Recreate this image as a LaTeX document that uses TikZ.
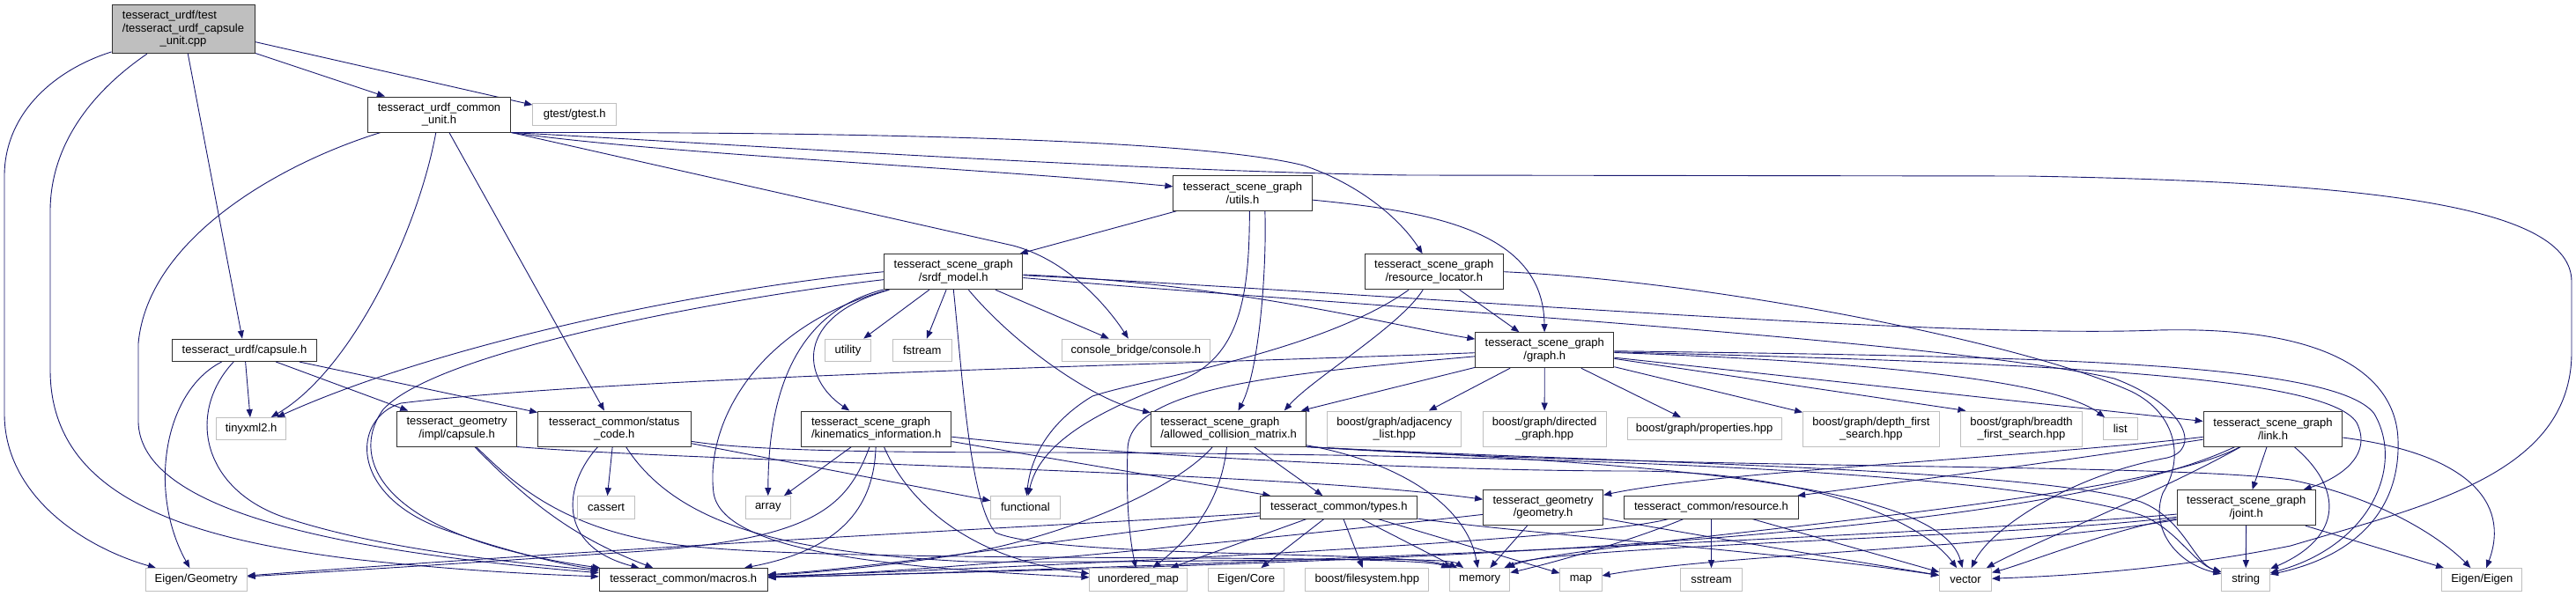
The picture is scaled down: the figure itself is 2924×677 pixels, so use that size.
\documentclass[tikz,border=0pt]{standalone}
\usepackage{fontspec}
\setmainfont{Liberation Sans}
\usetikzlibrary{arrows.meta,backgrounds}
\definecolor{edgec}{HTML}{191970}
\definecolor{sysc}{HTML}{BFBFBF}
\definecolor{rootc}{HTML}{BFBFBF}
\definecolor{hdrc}{HTML}{303030}
\tikzset{
  box/.style={rectangle, inner sep=0pt, font=\fontsize{13}{14.7}\selectfont, align=center},
  hdr/.style={box, draw=hdrc, line width=1pt, fill=white},
  sys/.style={box, draw=sysc, line width=1pt, fill=white},
  root/.style={box, draw=hdrc, line width=1pt, fill=rootc},
  two/.style={minimum height=40pt},
  one/.style={minimum height=25.4pt},
  e/.style={draw=edgec, line width=0.9pt, -{Triangle[length=9pt,width=7pt]}},
}
\begin{document}
\begin{tikzpicture}[x=1pt,y=-1pt]
\begin{scope}[on background layer]
\fill[white] (0,0) rectangle (2924,677);
\end{scope}
\path[use as bounding box] (0,0) rectangle (2924,677);

% ---------- nodes ----------
\node[root, minimum width=162pt, minimum height=55pt] (main) at (208,33.2) {\begin{tabular}{@{}l@{}}tesseract\_urdf/test\\/tesseract\_urdf\_capsule\\\multicolumn{1}{@{}c@{}}{\_unit.cpp}\end{tabular}};
\node[hdr, two, minimum width=162.7pt] (cu) at (498.5,130) {tesseract\_urdf\_common\\\_unit.h};
\node[sys, one, minimum width=95pt] (gtest) at (652.3,130) {gtest/gtest.h};
\node[hdr, two, minimum width=157.3pt] (utils) at (1410.5,219.3) {tesseract\_scene\_graph\\/utils.h};
\node[hdr, two, minimum width=157.3pt] (srdf) at (1082.3,308.7) {tesseract\_scene\_graph\\/srdf\_model.h};
\node[hdr, two, minimum width=157.3pt] (rl) at (1627.8,308.7) {tesseract\_scene\_graph\\/resource\_locator.h};
\node[hdr, one, minimum width=164.5pt] (cap) at (277.5,397.8) {tesseract\_urdf/capsule.h};
\node[sys, one, minimum width=52.4pt] (utility) at (962.5,397.8) {utility};
\node[sys, one, minimum width=67pt] (fstream) at (1046.7,397.8) {fstream};
\node[sys, one, minimum width=167.7pt] (console) at (1289.4,397.8) {console\_bridge/console.h};
\node[hdr, two, minimum width=157pt] (graph) at (1753.3,397.7) {tesseract\_scene\_graph\\/graph.h};
\node[sys, one, minimum width=78.8pt] (tinyxml) at (285.1,487.2) {tinyxml2.h};
\node[hdr, two, minimum width=135.5pt] (gcap) at (518.6,487) {tesseract\_geometry\\/impl/capsule.h};
\node[hdr, two, minimum width=173.4pt] (status) at (697.3,487) {tesseract\_common/status\\\_code.h};
\node[hdr, two, minimum width=170.3pt, align=left] (kin) at (994.7,487) {tesseract\_scene\_graph\\/kinematics\_information.h};
\node[hdr, two, minimum width=176pt, align=left] (acm) at (1394.6,487) {tesseract\_scene\_graph\\/allowed\_collision\_matrix.h};
\node[sys, two, minimum width=152pt] (adj) at (1582.7,487) {boost/graph/adjacency\\\_list.hpp};
\node[sys, two, minimum width=139.8pt] (dir) at (1753.1,487) {boost/graph/directed\\\_graph.hpp};
\node[sys, one, minimum width=174.8pt] (prop) at (1934.6,487.2) {boost/graph/properties.hpp};
\node[sys, two, minimum width=154.7pt] (dfs) at (2123.9,487) {boost/graph/depth\_first\\\_search.hpp};
\node[sys, two, minimum width=137.8pt] (bfs) at (2294.5,487) {boost/graph/breadth\\\_first\_search.hpp};
\node[sys, one, minimum width=39.1pt] (list) at (2406.7,487.2) {list};
\node[hdr, two, minimum width=157.7pt] (link) at (2580,487) {tesseract\_scene\_graph\\/link.h};
\node[sys, one, minimum width=65.4pt] (cassert) at (688.1,576.3) {cassert};
\node[sys, one, minimum width=50.9pt] (array) at (871.8,576.3) {array};
\node[sys, one, minimum width=78.6pt] (functional) at (1163.9,576.3) {functional};
\node[hdr, one, minimum width=178.3pt] (types) at (1519.8,576.3) {tesseract\_common/types.h};
\node[hdr, two, minimum width=136pt] (geom) at (1751.6,576.7) {tesseract\_geometry\\/geometry.h};
\node[hdr, one, minimum width=197.5pt] (resource) at (1942.5,576.3) {tesseract\_common/resource.h};
\node[hdr, two, minimum width=157.3pt] (joint) at (2549.7,576.7) {tesseract\_scene\_graph\\/joint.h};
\node[sys, one, minimum width=114.8pt] (eigeo) at (222.7,658.3) {Eigen/Geometry};
\node[hdr, one, minimum width=190.9pt] (macros) at (775.7,658.3) {tesseract\_common/macros.h};
\node[sys, one, minimum width=110.2pt] (umap) at (1292,658.3) {unordered\_map};
\node[sys, one, minimum width=85.8pt] (ecore) at (1414.5,658.3) {Eigen/Core};
\node[sys, one, minimum width=140pt] (fs) at (1551.9,658.3) {boost/filesystem.hpp};
\node[sys, one, minimum width=68.2pt] (memory) at (1679.7,658.3) {memory};
\node[sys, one, minimum width=47.1pt] (map) at (1794.5,658.3) {map};
\node[sys, one, minimum width=69.7pt] (sstream) at (1942.5,658.3) {sstream};
\node[sys, one, minimum width=59pt] (vector) at (2231,658.3) {vector};
\node[sys, one, minimum width=54.7pt] (string) at (2549.2,658.3) {string};
\node[sys, one, minimum width=91pt] (eeigen) at (2817.3,658.3) {Eigen/Eigen};

% ---------- edges ----------
\begin{scope}[on background layer]
% main
\draw[e] (main) .. controls (60,80) and (5,130) .. (5,200) -- (5,470) .. controls (5,560) and (90,620) .. (eigeo);
\draw[e] (main) .. controls (110,100) and (57,160) .. (57,240) -- (57,420) .. controls (57,560) and (200,610) .. (400,635) .. controls (520,648) and (600,652) .. (macros);
\draw[e] (main) -- (cap);
\draw[e] (main) -- (cu);
\draw[e] (main.-10) -- (gtest);
% common unit
\draw[e] (cu) .. controls (320,185) and (168,270) .. (157,390) -- (157,480) .. controls (160,560) and (300,620) .. (macros);
\draw[e] (cu) .. controls (475,260) and (400,420) .. (tinyxml);
\draw[e] (cu) -- (status);
\draw[e] (cu.south east) -- (1150,279) .. controls (1210,295) and (1255,345) .. (console);
\draw[e] (cu.south east) .. controls (750,175) and (1100,190) .. (utils);
\draw[e] (cu.south east) .. controls (900,150) and (1350,155) .. (1480,188) .. controls (1545,210) and (1590,250) .. (rl);
\draw[e] (cu.south east) .. controls (850,165) and (1300,195) .. (1600,199) -- (2300,200) .. controls (2700,207) and (2919,235) .. (2919,320) -- (2919,400) .. controls (2919,540) and (2750,575) .. (2600,620) .. controls (2450,650) and (2320,655) .. (vector);
% urdf capsule
\draw[e] (cap) .. controls (185,445) and (168,560) .. (eigeo);
\draw[e] (cap) .. controls (210,470) and (230,560) .. (330,590) .. controls (450,628) and (600,640) .. (macros);
\draw[e] (cap) -- (tinyxml);
\draw[e] (cap) -- (gcap);
\draw[e] (cap) -- (status);
% geometry capsule
\draw[e] (gcap) .. controls (600,570) and (650,610) .. (macros);
\draw[e] (gcap) .. controls (580,545) and (640,610) .. (800,622) .. controls (1000,640) and (1600,628) .. (memory);
\draw[e] (gcap.south east) .. controls (800,525) and (1450,535) .. (geom);
% status code
\draw[e] (status) .. controls (640,550) and (630,620) .. (macros);
\draw[e] (status) -- (cassert);
\draw[e] (status) -- (functional);
\draw[e] (status) .. controls (770,600) and (900,628) .. (1100,638) .. controls (1350,640) and (1640,630) .. (memory);
\draw[e] (status) .. controls (850,512) and (1000,514) .. (1200,514) .. controls (1700,516) and (2250,530) .. (2430,585) .. controls (2470,600) and (2490,640) .. (string);
% utils
\draw[e] (utils) -- (srdf);
\draw[e] (utils.-39) .. controls (1438,300) and (1430,420) .. (acm);
\draw[e] (utils.-69) .. controls (1418,330) and (1410,405) .. (1340,432) .. controls (1240,468) and (1180,505) .. (functional);
\draw[e] (utils) .. controls (1620,240) and (1752,260) .. (graph);
% resource locator
\draw[e] (rl) .. controls (1590,370) and (1490,430) .. (acm.18);
\draw[e] (rl) .. controls (1500,400) and (1300,430) .. (1240,450) .. controls (1190,480) and (1170,520) .. (functional);
\draw[e] (rl) -- (graph);
\draw[e] (rl.east) .. controls (1950,320) and (2300,390) .. (2420,445) .. controls (2470,470) and (2480,520) .. (2455,560) .. controls (2440,600) and (2470,640) .. (string);
% srdf model
\draw[e] (srdf) -- (utility);
\draw[e] (srdf) -- (fstream);
\draw[e] (srdf) -- (console);
\draw[e] (srdf.south) .. controls (1092,420) and (1100,570) .. (1130,605) .. controls (1200,635) and (1600,625) .. (memory);
\draw[e] (srdf) .. controls (1150,390) and (1240,455) .. (acm);
\draw[e] (srdf) .. controls (900,360) and (910,430) .. (kin);
\draw[e] (srdf.west) .. controls (800,328) and (500,390) .. (tinyxml);
\draw[e] (srdf) .. controls (850,335) and (500,395) .. (435,465) .. controls (395,520) and (430,610) .. (macros);
\draw[e] (srdf) .. controls (920,350) and (872,420) .. (array);
\draw[e] (srdf) .. controls (860,370) and (800,480) .. (810,560) .. controls (820,625) and (1000,645) .. (umap);
\draw[e] (srdf) .. controls (1400,322) and (1580,370) .. (graph);
\draw[e] (srdf) .. controls (1600,335) and (2200,385) .. (2450,375) .. controls (2650,370) and (2720,430) .. (2722,500) .. controls (2725,590) and (2660,635) .. (string);
\draw[e] (srdf) .. controls (1500,345) and (2200,385) .. (2400,430) .. controls (2480,460) and (2500,510) .. (2460,520) .. controls (2350,540) and (2260,600) .. (vector);
% kinematics information
\draw[e] (kin) -- (array);
\draw[e] (kin) .. controls (960,580) and (920,615) .. (700,628) .. controls (450,645) and (330,652) .. (eigeo);
\draw[e] (kin) .. controls (992,580) and (950,625) .. (macros);
\draw[e] (kin) .. controls (1030,570) and (1100,635) .. (umap);
\draw[e] (kin) -- (types);
\draw[e] (kin) .. controls (1300,520) and (1650,535) .. (1850,535) .. controls (2050,535) and (2180,590) .. (vector);
% allowed collision matrix
\draw[e] (acm) .. controls (1330,560) and (1200,610) .. (1100,628) .. controls (1000,645) and (900,652) .. (macros);
\draw[e] (acm) .. controls (1385,580) and (1340,620) .. (umap);
\draw[e] (acm) -- (types);
\draw[e] (acm.-12) .. controls (1590,525) and (1665,575) .. (memory);
\draw[e] (acm.south east) .. controls (1800,525) and (2300,530) .. (2430,570) .. controls (2480,590) and (2490,640) .. (string);
\draw[e] (acm.south east) .. controls (1800,525) and (2200,540) .. (vector);
\draw[e] (acm.south east) .. controls (1900,535) and (2450,525) .. (2600,545) .. controls (2700,565) and (2770,610) .. (eeigen);
% types
\draw[e] (types) -- (umap);
\draw[e] (types) -- (ecore);
\draw[e] (types) -- (fs);
\draw[e] (types) -- (memory);
\draw[e] (types) -- (map);
\draw[e] (types) .. controls (1720,605) and (2050,630) .. (vector);
\draw[e] (types) .. controls (1300,592) and (800,615) .. (eigeo);
\draw[e] (types) .. controls (1300,600) and (1000,645) .. (macros);
% geometry
\draw[e] (geom) .. controls (1500,605) and (1100,648) .. (macros);
\draw[e] (geom) -- (memory);
\draw[e] (geom) .. controls (1950,612) and (2120,640) .. (vector);
% resource
\draw[e] (resource) -- (sstream);
\draw[e] (resource) -- (vector);
\draw[e] (resource) .. controls (1850,615) and (1760,640) .. (memory);
\draw[e] (resource) .. controls (1800,615) and (1150,645) .. (macros);
% link
\draw[e] (link) -- (joint);
\draw[e] (link) .. controls (2660,555) and (2660,610) .. (string);
\draw[e] (link) .. controls (2800,515) and (2850,570) .. (eeigen);
\draw[e] (link) .. controls (2300,520) and (1950,535) .. (geom);
\draw[e] (link) .. controls (2300,530) and (2100,555) .. (resource);
\draw[e] (link) .. controls (2300,620) and (1500,640) .. (macros);
\draw[e] (link) .. controls (2420,575) and (1780,615) .. (memory);
\draw[e] (link) .. controls (2450,560) and (2300,620) .. (vector);
% joint
\draw[e] (joint) -- (string);
\draw[e] (joint) -- (eeigen);
\draw[e] (joint) .. controls (2300,600) and (1500,640) .. (macros);
\draw[e] (joint) .. controls (2300,610) and (1760,620) .. (memory);
\draw[e] (joint) .. controls (2300,620) and (1950,630) .. (map);
\draw[e] (joint) .. controls (2400,600) and (2300,640) .. (vector);
% graph
\draw[e] (graph) -- (adj);
\draw[e] (graph) -- (dir);
\draw[e] (graph) -- (prop);
\draw[e] (graph) -- (dfs);
\draw[e] (graph.-7) -- (bfs.162);
\draw[e] (graph) .. controls (2100,410) and (2330,430) .. (list);
\draw[e] (graph) -- (link);
\draw[e] (graph) .. controls (2300,412) and (2640,425) .. (2675,480) .. controls (2695,520) and (2650,545) .. (joint);
\draw[e] (graph) .. controls (2300,405) and (2650,410) .. (2695,470) .. controls (2730,530) and (2690,620) .. (string);
\draw[e] (graph) -- (acm);
\draw[e] (graph) .. controls (1300,415) and (700,428) .. (455,458) .. controls (400,475) and (395,560) .. (500,600) .. controls (570,625) and (640,642) .. (macros);
\draw[e] (graph) .. controls (1450,425) and (1282,440) .. (1280,510) .. controls (1278,570) and (1282,610) .. (umap);
\end{scope}
\end{tikzpicture}
\end{document}
